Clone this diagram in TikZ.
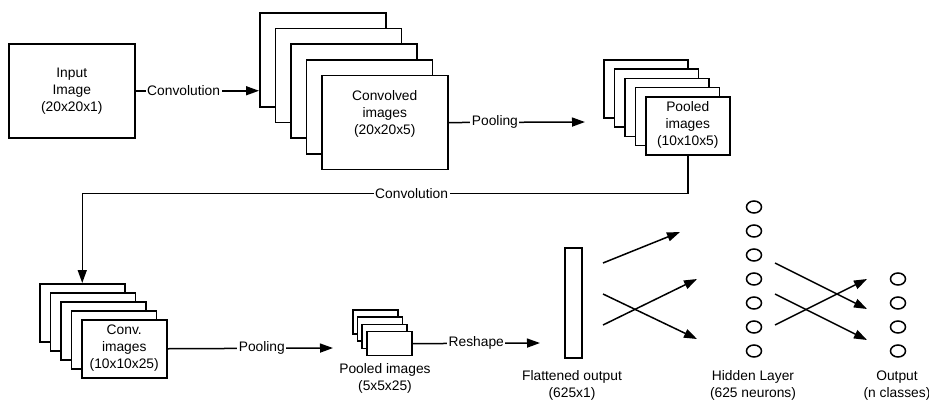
\documentclass[tikz,border=0pt]{standalone}
\usepackage{fontspec}
\setmainfont{Liberation Sans}
\usetikzlibrary{arrows.meta,calc,shapes.geometric}
\begin{document}
\begin{tikzpicture}[x=1pt,y=-1pt,
  every node/.style={font=\fontsize{13.8}{17}\selectfont},
  sheet/.style={draw, fill=white, line width=1.5pt, inner sep=0pt, anchor=north west},
  txt/.style={align=center, inner sep=0pt},
  lbl/.style={fill=white, inner sep=1.5pt},
  arr/.style={-{Triangle[length=13pt,width=9pt]}, line width=1.5pt},
  neuron/.style={draw, ellipse, line width=1.5pt, minimum width=15pt, minimum height=12pt, inner sep=0pt}
]
\useasboundingbox (0,0) rectangle (929,405);

% input image
\node[sheet, minimum width=126pt, minimum height=94pt, align=center] (in) at (8,43)
  {Input\\Image\\(20x20x1)};

% convolved images (20x20x5)
\foreach \i in {1,...,5}
  \node[sheet, minimum width=126pt, minimum height=94pt] (cv\i) at ({259+(\i-1)*15.5},{12+(\i-1)*15.7}) {};
\node[txt] (cvt) at ($(cv5.center)+(0,-9)$) {Convolved\\images\\(20x20x5)};

% pooled images (10x10x5)
\foreach \i in {1,...,5}
  \node[sheet, minimum width=84pt, minimum height=58pt] (pl\i) at ({603+(\i-1)*10.5},{59+(\i-1)*9.25}) {};
\node[txt] (plt) at ($(pl5.center)+(0,-1)$) {Pooled\\images\\(10x10x5)};

% conv. images (10x10x25)
\foreach \i in {1,...,5}
  \node[sheet, minimum width=85pt, minimum height=58pt] (cb\i) at ({39+(\i-1)*10.5},{283+(\i-1)*9}) {};
\node[txt] (cbt) at ($(cb5.center)+(0,-1)$) {Conv.\\images\\(10x10x25)};

% pooled images (5x5x25)
\foreach \i in {1,...,4}
  \node[sheet, minimum width=45pt, minimum height=24pt] (sp\i) at ({352+(\i-1)*4.7},{309+(\i-1)*7.3}) {};
\node[txt] (spt) at (385,378.5) {Pooled images\\(5x5x25)};

% flattened output
\node[sheet, minimum width=17pt, minimum height=110pt] (fl) at (564,247) {};
\node[txt] (flt) at (572,385) {Flattened output\\(625x1)};

% hidden layer
\foreach \i in {1,...,7}
  \node[neuron] (h\i) at (754,{207+(\i-1)*24}) {};
\node[txt] (ht) at (753,385.5) {Hidden Layer\\(625 neurons)};

% output layer
\foreach \i in {1,...,4}
  \node[neuron] (o\i) at (898,{279+(\i-1)*24}) {};
\node[txt] (ot) at (897,385.5) {Output\\(n classes)};

% free arrow ends
\coordinate (pend) at (585,122);
\coordinate (pend2) at (333,348);
\coordinate (rend) at (540,343);
\coordinate (fa1) at (603,263); \coordinate (fb1) at (680,232);
\coordinate (fa2) at (603,294); \coordinate (fb2) at (697,339);
\coordinate (fa3) at (603,325); \coordinate (fb3) at (697,279);
\coordinate (ha1) at (775,263); \coordinate (hb1) at (867,309);
\coordinate (ha2) at (775,294); \coordinate (hb2) at (867,340);
\coordinate (ha3) at (775,325); \coordinate (hb3) at (867,279);

% connectors
\draw[arr] (in.east) -- node[lbl, pos=0.39] {Convolution} (in.east -| cv1.west);
\draw[arr] (cv5.east) -- node[lbl, pos=0.34] {Pooling} (pend);
\draw[arr] (pl5.south) -- ++(0,38) -| node[lbl, pos=0.228] {Convolution} (cb1.north);
\draw[arr] (cb5.east) -- node[lbl, pos=0.57] {Pooling} (pend2);
\draw[arr] (sp4.east) -- node[lbl, pos=0.5] {Reshape} (rend);

\foreach \k in {1,2,3} {
  \draw[arr] (fa\k) -- (fb\k);
  \draw[arr] (ha\k) -- (hb\k);
}
\end{tikzpicture}
\end{document}
